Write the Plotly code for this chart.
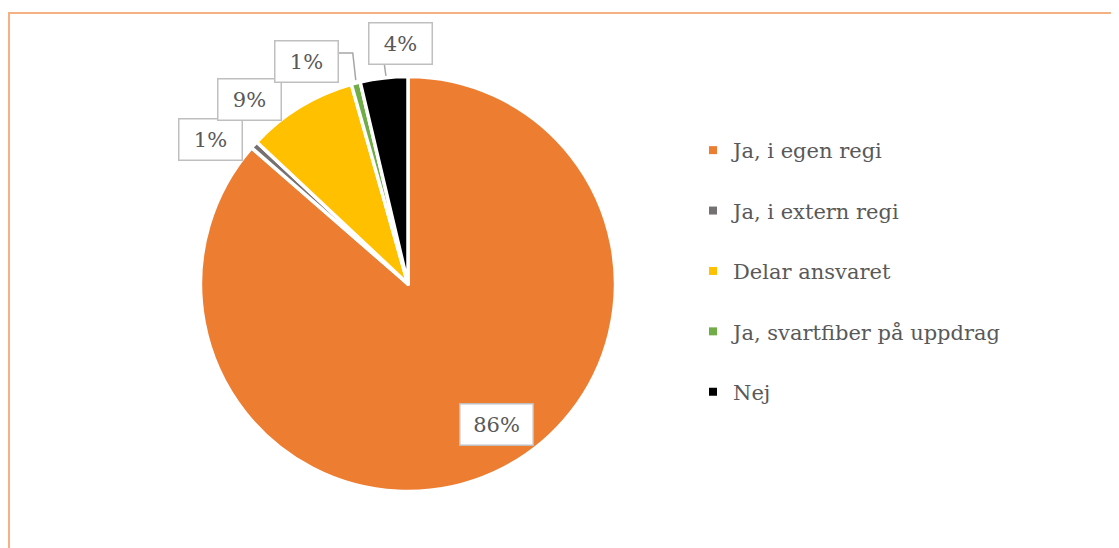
import math
import plotly.graph_objects as go

# ---- data ----
categories = ["Ja, i egen regi", "Ja, i extern regi", "Delar ansvaret",
              "Ja, svartfiber på uppdrag", "Nej"]
values = [86.4, 0.6, 8.6, 0.7, 3.7]
colors = ["#ED7D31", "#767171", "#FFC000", "#70AD47", "#000000"]

# ---- layout constants (page pixel coordinates) ----
W, H = 1119, 548
OFF = 8                                  # page body margin
CX, CY, R = 408, 284, 207.5              # pie centre / radius
# label placement (radius factor, angle clockwise from 12 o'clock, degrees)
label_r = [0.80, 1.18, 1.17, 1.18, 1.16]
label_ang = [147.6, 306.1, 319.3, 335.6, 358.1]
TEXT = "#595959"
FONT = "DejaVu Serif"


def px(x):
    return (x - OFF) / W


def py(y):
    return 1 - (y - OFF) / H


fig = go.Figure()
fig.add_trace(go.Pie(
    labels=categories, values=values, sort=False, direction="clockwise",
    rotation=0,
    marker=dict(colors=colors, line=dict(color="white", width=3.5)),
    textinfo="none", hoverinfo="label+percent", showlegend=False,
    domain=dict(x=[px(CX - R), px(CX + R)], y=[py(CY + R), py(CY - R)]),
))

# legend entries
for cat, col in zip(categories, colors):
    fig.add_trace(go.Scatter(
        x=[None], y=[None], mode="markers", name=cat, legendgroup=cat,
        marker=dict(symbol="square", size=8, color=col),
    ))

total = sum(values)
annotations = []
shapes = []
for i, v in enumerate(values):
    a = math.radians(label_ang[i])
    lx = CX + label_r[i] * R * math.sin(a)
    ly = CY - label_r[i] * R * math.cos(a)
    pct = round(v / total * 100)
    txt = f"{pct}%"
    annotations.append(dict(
        x=px(lx), y=py(ly), xref="paper", yref="paper",
        xanchor="center", yanchor="middle",
        text=txt, showarrow=False,
        font=dict(family=FONT, size=21, color=TEXT),
        width=56 if len(txt) < 3 else 66, height=34,
        bgcolor="white", bordercolor="#BFBFBF", borderwidth=1.5, borderpad=3,
    ))


# leader lines for green and black slices
def edge_point(idx):
    c = sum(values[:idx]) + values[idx] / 2
    ang = math.radians(c / total * 360)
    return CX + R * math.sin(ang), CY - R * math.cos(ang)


gx, gy = edge_point(3)
shapes.append(dict(type="path", xref="paper", yref="paper",
                   path=f"M {px(338)} {py(53)} L {px(gx - 3)} {py(53)} L {px(gx)} {py(gy - 3)}",
                   line=dict(color="#A6A6A6", width=1.5)))
bx, by = edge_point(4)
shapes.append(dict(type="line", xref="paper", yref="paper",
                   x0=px(384), y0=py(62), x1=px(bx + 2), y1=py(by - 2),
                   line=dict(color="#A6A6A6", width=1.5)))
# chart frame
shapes.append(dict(type="rect", xref="paper", yref="paper",
                   x0=px(9), y0=-0.1, x1=1.1, y1=py(13),
                   line=dict(color="#F4B183", width=2)))

fig.update_layout(
    width=W, height=H, margin=dict(l=0, r=0, t=0, b=0),
    paper_bgcolor="white", plot_bgcolor="white",
    xaxis=dict(visible=False), yaxis=dict(visible=False),
    legend=dict(x=px(693), y=py(130), xanchor="left", yanchor="top",
                font=dict(family=FONT, size=21, color=TEXT),
                tracegroupgap=30.1, itemwidth=30, bgcolor="rgba(0,0,0,0)"),
    annotations=annotations, shapes=shapes,
)
fig.write_html("out.html")
